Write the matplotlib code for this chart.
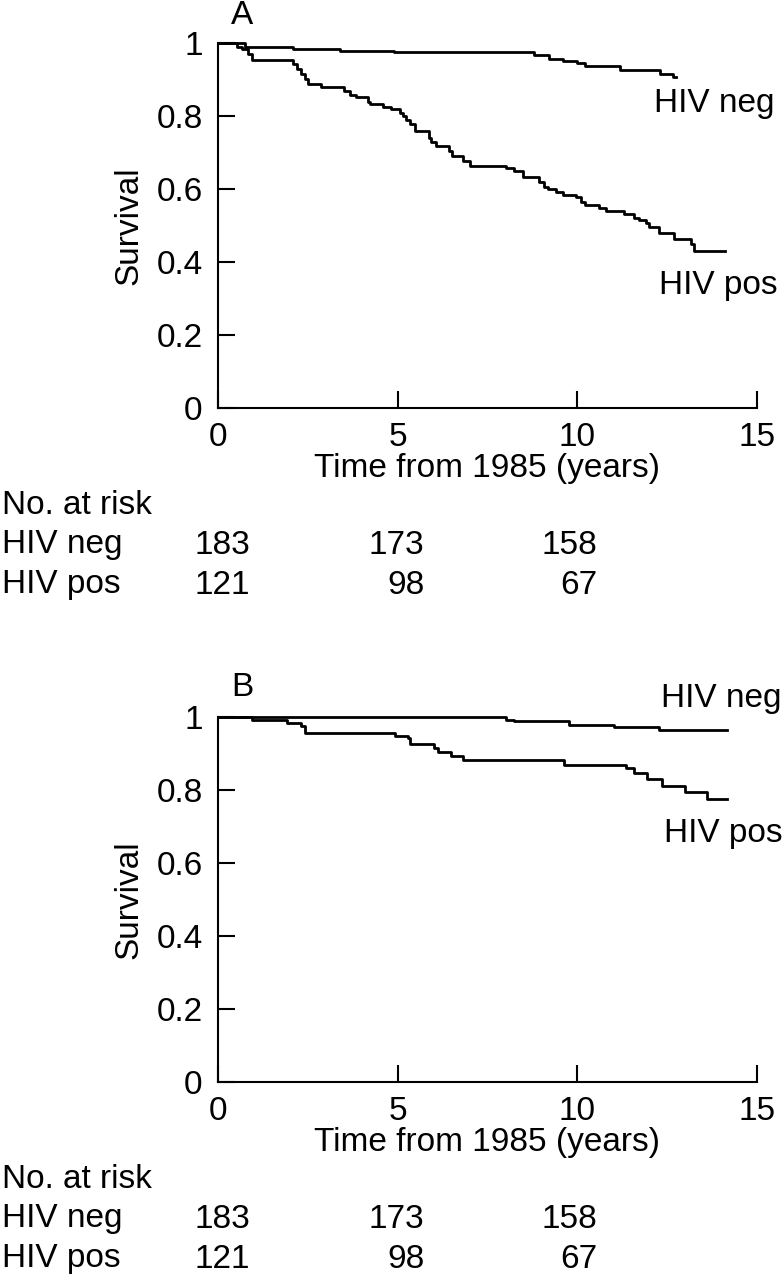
import numpy as np
import matplotlib
matplotlib.use("Agg")
import matplotlib.pyplot as plt
from matplotlib.transforms import blended_transform_factory

# %% Data (Kaplan-Meier steps: time in years, survival)
a_neg_t = [0, 0.75, 2.1, 3.4, 4.9, 8.8, 9.2, 9.6, 10.0, 10.2, 11.2, 12.3, 12.65, 12.75]
a_neg_s = [1.0, 0.988, 0.984, 0.979, 0.974, 0.966, 0.955, 0.950, 0.944, 0.937, 0.925, 0.915, 0.908, 0.908]

a_pos_t = [0, 0.52, 0.66, 0.84, 0.95, 2.09, 2.19, 2.32, 2.42, 2.51, 2.88, 3.5, 3.67, 3.85,
           4.18, 4.22, 4.59, 4.82, 5.06, 5.15, 5.24, 5.35, 5.47, 5.87, 5.93, 6.07, 6.44,
           6.52, 6.81, 7.0, 8.02, 8.25, 8.48, 8.94, 9.08, 9.18, 9.41, 9.59, 9.96, 10.1,
           10.2, 10.61, 10.8, 11.3, 11.58, 11.72, 11.91, 12.0, 12.28, 12.7, 13.16, 13.25, 14.1]
a_pos_s = [1.0, 0.989, 0.983, 0.97, 0.954, 0.942, 0.928, 0.914, 0.901, 0.887, 0.880, 0.869, 0.857, 0.851,
           0.839, 0.832, 0.825, 0.819, 0.808, 0.799, 0.789, 0.778, 0.758, 0.741, 0.728, 0.717, 0.705,
           0.691, 0.678, 0.664, 0.657, 0.648, 0.632, 0.618, 0.606, 0.600, 0.591, 0.584, 0.577, 0.565,
           0.557, 0.548, 0.541, 0.532, 0.521, 0.514, 0.506, 0.497, 0.479, 0.463, 0.450, 0.430, 0.430]

b_neg_t = [0, 8.02, 8.25, 9.78, 11.03, 12.28, 14.17]
b_neg_s = [1.0, 0.993, 0.988, 0.979, 0.972, 0.965, 0.965]

b_pos_t = [0, 0.95, 1.91, 2.32, 2.42, 4.92, 5.29, 5.35, 6.0, 6.12, 6.49, 6.82, 9.64,
           11.35, 11.58, 11.95, 12.35, 13.0, 13.6, 14.17]
b_pos_s = [1.0, 0.993, 0.983, 0.974, 0.955, 0.949, 0.942, 0.925, 0.914, 0.903, 0.894, 0.882, 0.868,
           0.859, 0.846, 0.829, 0.811, 0.795, 0.775, 0.775]

risk_times = [0, 5, 10]
risk_neg = [183, 173, 158]
risk_pos = [121, 98, 67]

xticks = [0, 5, 10, 15]
yticks = [0, 0.2, 0.4, 0.6, 0.8, 1]
ytick_labels = ["0", "0.2", "0.4", "0.6", "0.8", "1"]

# %% Style
plt.rcParams["font.family"] = ["Liberation Sans", "DejaVu Sans"]
plt.rcParams["font.size"] = 24

W, H = 784, 1280
fig = plt.figure(figsize=(W / 100, H / 100), dpi=100)

# axes boxes in pixels: left, top-of-axes, bottom-of-axes
ax_left, ax_right = 218, 757
panels = [
    ("A", 43, 408, a_neg_t, a_neg_s, a_pos_t, a_pos_s, (12.14, 0.833), (12.28, 0.336)),
    ("B", 717, 1082, b_neg_t, b_neg_s, b_pos_t, b_pos_s, (12.33, 1.052), (12.42, 0.682)),
]

col_x = [0.9, 5.75, 10.55]  # right edges of the at-risk numbers (in years)

for name, top, bot, nt, ns, pt, ps, neg_lab, pos_lab in panels:
    ax = fig.add_axes([ax_left / W, 1 - bot / H, (ax_right - ax_left) / W, (bot - top) / H])
    ax.step(nt, ns, where="post", color="black", lw=2, clip_on=False)
    ax.step(pt, ps, where="post", color="black", lw=2, clip_on=False)
    ax.set_xlim(0, 15)
    ax.set_ylim(0, 1)
    ax.set_xticks(xticks)
    ax.set_yticks(yticks)
    ax.set_yticklabels(ytick_labels)
    ax.spines["top"].set_visible(False)
    ax.spines["right"].set_visible(False)
    for s in ["left", "bottom"]:
        ax.spines[s].set_linewidth(1.5)
    ax.tick_params(direction="in", length=12, width=1.5)
    ax.tick_params(axis="y", pad=11)
    ax.tick_params(axis="x", pad=10)
    ax.set_ylabel("Survival")
    ax.set_xlabel("Time from 1985 (years)")
    ax.xaxis.set_label_coords(0.5, -0.122)
    ax.yaxis.set_label_coords(-0.136, 0.5)

    ax.text(0.67, 1.074 if name == "A" else 1.08, name, ha="center", va="center", clip_on=False)
    ax.text(neg_lab[0], neg_lab[1], "HIV neg", ha="left", va="center", clip_on=False)
    ax.text(pos_lab[0], pos_lab[1], "HIV pos", ha="left", va="center", clip_on=False)

    # number at risk table, rows placed relative to the axes bottom
    h = bot - top
    row_y = [-97 / h, -137 / h, -177 / h]
    lab_tr = blended_transform_factory(fig.transFigure, ax.transAxes)
    num_tr = blended_transform_factory(ax.transData, ax.transAxes)
    ax.text(0.002, row_y[0], "No. at risk", transform=lab_tr, ha="left", va="center")
    ax.text(0.002, row_y[1], "HIV neg", transform=lab_tr, ha="left", va="center")
    ax.text(0.002, row_y[2], "HIV pos", transform=lab_tr, ha="left", va="center")
    for cx, n1, n2 in zip(col_x, risk_neg, risk_pos):
        ax.text(cx, row_y[1], str(n1), transform=num_tr, ha="right", va="center")
        ax.text(cx, row_y[2], str(n2), transform=num_tr, ha="right", va="center")

fig.savefig("out.png", dpi=100)
